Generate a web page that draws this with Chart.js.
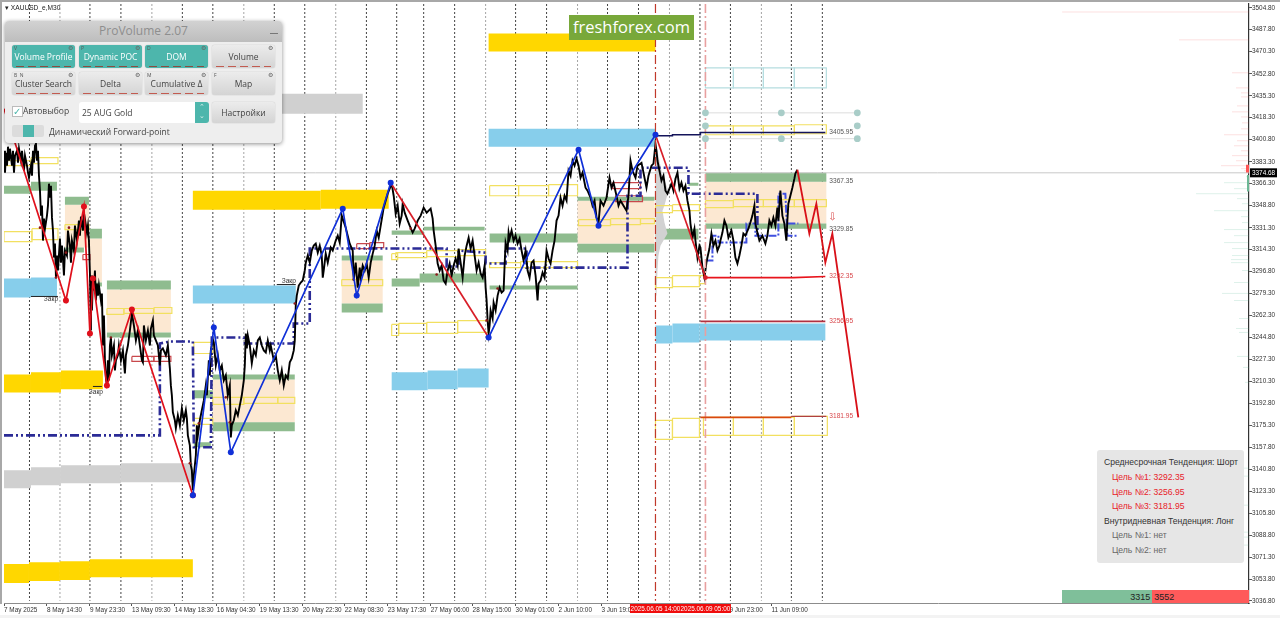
<!DOCTYPE html>
<html>
<head>
<meta charset="utf-8">
<script src="https://cdn.jsdelivr.net/npm/chart.js@4"></script>
<style>
html,body{margin:0;padding:0;width:1280px;height:618px;overflow:hidden;background:#fff;font-family:"Liberation Sans",sans-serif}
#myChart{position:absolute;left:0;top:0}
.abs,.btn,.txt{position:absolute}
.edge{position:absolute;background:#a8a8a8}
#strip{position:absolute;left:0;top:615px;width:1280px;height:3px;background:#f3f3f3}
#panel{position:absolute;left:5px;top:21px;width:277px;height:122px;background:#eeeeee;border-radius:4px;box-shadow:0 1px 4px rgba(0,0,0,.45);font-family:"Open Sans",sans-serif;color:#444;overflow:hidden}
#panelHead{position:absolute;left:0;top:0;width:277px;height:21px;background:linear-gradient(#d2d2d2,#bdbdbd);text-align:center;font-size:12px;line-height:20px;color:#8e8e8e}
#panelHead i{position:absolute;right:4px;top:12px;width:8px;height:1px;background:#777}
.btn{width:63px;height:23px;border-radius:3px;background:linear-gradient(#ececec,#d4d4d4);box-shadow:0 0 1px #999;font-size:8.5px;line-height:24px;text-align:center;color:#444}
.btn.on{background:#4db6ac;color:#fff}
.btn b{position:absolute;left:2px;top:0;font-size:5px;font-weight:400;line-height:6px;color:#555}
.btn u{position:absolute;right:2px;top:0;font-size:6px;line-height:7px;text-decoration:none;color:#666}
.btn s{position:absolute;left:4px;right:4px;bottom:1px;height:1px;background:repeating-linear-gradient(90deg,#c25b50 0 8px,transparent 8px 12px)}
.btn.on s{background:repeating-linear-gradient(90deg,#8a4d40 0 8px,transparent 8px 12px)}
#badge{position:absolute;left:569px;top:15px;width:125px;height:25px;background:#78a83a;color:#fff;font-family:"Open Sans",sans-serif;font-size:16.5px;line-height:24px;text-align:center}
#info{position:absolute;left:1097px;top:450px;width:147px;height:113px;background:#e6e6e6;border-radius:3px;font-size:8.6px;color:#333}
#info div{position:absolute;white-space:nowrap;line-height:12px}
#vol{position:absolute;left:1062px;top:590px;width:187px;height:13px;display:flex;font-size:9px;line-height:14px;color:#222}
#vol div{height:13px;box-sizing:border-box}
</style>
</head>
<body>
<canvas id="myChart" width="1280" height="618"></canvas>
<div class="edge" style="left:0;top:0;width:1280px;height:2px"></div>
<div class="edge" style="left:0;top:0;width:2px;height:604px"></div>
<div id="strip"></div>
<div class="txt" style="left:5px;top:4px;font-size:6.6px;color:#222">&#9662; XAUUSD_&#1077;,M30</div>

<div id="panel">
  <div id="panelHead">ProVolume 2.07<i></i></div>
  <div class="btn on" style="left:7px;top:24px"><b>V</b><u>&#9881;</u>Volume Profile<s></s></div>
  <div class="btn on" style="left:74px;top:24px"><b>P</b><u>&#9881;</u>Dynamic POC<s></s></div>
  <div class="btn on" style="left:140px;top:24px"><b>D</b><u>&#9881;</u>DOM<s></s></div>
  <div class="btn" style="left:207px;top:24px"><u>&#9881;</u>Volume<s></s></div>
  <div class="btn" style="left:7px;top:51px"><b>B &nbsp;N</b><u>&#9881;</u>Cluster Search<s></s></div>
  <div class="btn" style="left:74px;top:51px"><u>&#9881;</u>Delta<s></s></div>
  <div class="btn" style="left:140px;top:51px"><b>M</b><u>&#9881;</u>Cumulative &#916;<s></s></div>
  <div class="btn" style="left:207px;top:51px"><b>F</b><u>&#9881;</u>Map</div>
  <div class="abs" style="left:7px;top:85px;width:9px;height:9px;background:#fff;border:1px solid #bbb;font-size:10px;line-height:9px;color:#4db6ac">&#10003;</div>
  <div class="txt" style="left:18px;top:84px;font-size:8.5px">Автовыбор</div>
  <div class="abs" style="left:74px;top:81px;width:116px;height:21px;background:#fff;font-size:8.5px;line-height:22px;text-indent:3px;border-radius:3px 0 0 3px">25 AUG Gold</div>
  <div class="abs" style="left:190px;top:81px;width:14px;height:21px;background:#4db6ac;border-radius:0 3px 3px 0;color:#d8f0ec;font-size:7px;line-height:9px;text-align:center">&#8963;<br>&#8964;</div>
  <div class="btn" style="left:207px;top:81px;height:21px;line-height:21px">Настройки</div>
  <div class="abs" style="left:7px;top:104px;width:32px;height:12px;background:#dcdcdc;border-radius:2px"></div>
  <div class="abs" style="left:18px;top:104px;width:11px;height:12px;background:#4db6ac"></div>
  <div class="txt" style="left:44px;top:105px;font-size:8.5px">Динамический Forward-point</div>
</div>

<div id="badge">freshforex.com</div>

<div id="info">
  <div style="left:7px;top:6px">Среднесрочная Тенденция: Шорт</div>
  <div style="left:15px;top:21px;color:#e8222a">Цель №1: 3292.35</div>
  <div style="left:15px;top:36px;color:#e8222a">Цель №2: 3256.95</div>
  <div style="left:15px;top:50px;color:#e8222a">Цель №3: 3181.95</div>
  <div style="left:7px;top:65px">Внутридневная Тенденция: Лонг</div>
  <div style="left:15px;top:79px;color:#666">Цель №1: нет</div>
  <div style="left:15px;top:94px;color:#666">Цель №2: нет</div>
</div>

<div id="vol"></div>

<script>
// axis labels
const priceTicks = [3504.80,3487.80,3470.30,3452.80,3435.30,3418.30,3400.80,3383.30,3366.30,3348.80,3331.30,3314.30,3296.80,3279.30,3262.30,3244.80,3227.30,3210.30,3192.80,3175.30,3157.80,3140.80,3123.30,3105.80,3088.80,3071.30,3053.80,3036.80];
const timeSlots = [0,43,86,128,171,213,256,299,341,384,427,469,512,555,598,640,683,726,768];
const timeLabels = ['7 May 2025','8 May 14:30','9 May 23:30','13 May 09:30','14 May 18:30','16 May 04:30','19 May 13:30','20 May 22:30','22 May 08:30','23 May 17:30','27 May 06:00','28 May 15:00','30 May 01:00','2 Jun 10:00','3 Jun 19:00','5 Jun 04:00','6 Jun 13:00','9 Jun 23:00','11 Jun 09:00'];
const lastPrice = 3374.68;
const buyVolume = 3315;
const sellVolume = 3552;

// day separators
const daySlots = [25.5,86,117,178.5,209,270.5,301,362.7,393,420,451,512,543,604,635,696.5,727,788,819];
const weekSlots = [56,148,240,332,482,574,666,758];
const eventSlots = [652,702];
const eventLabels = ['2025.06.05 14:00','2025.06.09 05:00'];

// price path
const priceSlots = [
0,1,2,3,4,5,6,8,9,10,11,13,14,15,17,18,20,21,23,24,
25,27,28,29,30,31,32,33,34,35,36,37,38,39,40,41,43,44,45,46,
47,48,49,50,51,52,53,54,56,57,58,59,60,61,63,64,66,67,68,70,
71,73,75,76,77,79,80,82,83,84,85,86,86.5,87,87.5,88,89,90,91,92,
93,94,95,97,98,99,100,101,102,103,104,105,106,107,108,110,111,112,114,115,
117,119,121,122,124,126,128,130,132,134,136,138,139,140,142,144,146,147,149,150,
152,154,156,157,159,162,164,166,167,168,169,171,172,174,176,178,180,182,183,184,
186,187,188,189,190,192,193,194,196,198,200,202,203,205,206,207,209,210,212,214,
216,218,220,222,224,226,227,228,230,232,234,236,238,240,241,242,243,244,246,248,
250,252,254,256,258,260,262,264,266,267,270,272,274,276,278,280,282,284,286,288,
290,291,292,293,295,297,299,301,302,304,306,308,310,312,314,316,318,319,320,322,
324,327,329,332,334,336,338,340,342,344,346,349,350,352,354,356,357,359,361,363,
365,367,369,371,373,375,377,380,382,384,386,388,390,392,394,396,398,399,401,404,
406,409,411,414,417,420,423,427,429,430,432,434,436,438,440,442,444,446,448,450,
452,454,455,457,459,461,463,465,467,469,471,473,475,477,479,481,482,483,484,485,
486,487,489,490,492,494,496,498,500,501,502,504,505,506,508,510,512,514,516,518,
520,522,524,526,528,530,532,534,535,537,539,541,543,545,547,549,551,553,555,557,
559,561,563,565,567,569,571,573,575,577,579,582,584,587,589,591,593,595,597,600,
603,606,608,610,613,615,617,623,625,627,629,632,634,638,640,643,645,648,650,652,
653,654,656,658,660,662,664,666,668,670,672,674,676,678,680,682,684,686,687,689,
691,692,694,696,697,699,700,701,703,704,706,708,710,712,714,716,717,719,721,723,
725,728,730,732,734,736,738,740,742,745,747,749,751,752,754,756,759,762,764,766,
768,770,772,774,775,777,779,781,783,784,785,787,789,791,792,794];
const priceValues = [
3392.1,3374.8,3390.5,3380.3,3395.3,3384.2,3393.7,3380.3,3392.1,3374.8,3388.2,3392.1,3382.6,3393.7,3384.2,3392.1,3376.3,3388.2,3380.3,3374.8,
3370.8,3380.3,3372.4,3392.1,3382.6,3396,3397.6,3384.2,3392.1,3372.4,3360.6,3340.9,3348.8,3321.2,3338.5,3330.6,3340.9,3348.8,3366.1,3355,
3364.5,3339.3,3329.1,3307.8,3318.8,3292,3309.4,3297.6,3322.8,3303.8,3317.2,3307,3293.6,3313.3,3309.4,3329.1,3317.2,3303.8,3321.2,3313.3,
3333,3321.2,3337,3325.1,3340.1,3329.1,3343.2,3333,3327.5,3333,3321.2,3295.2,3273.9,3250.3,3293.6,3266,3289.7,3281.8,3297.6,3273.9,
3287.3,3277.8,3285.7,3273.9,3279.4,3238.4,3262.1,3226.7,3212.4,3206.9,3226.7,3210.9,3238.4,3244.7,3230.6,3238.4,3218.8,3226.7,3230.6,3238.4,
3226.7,3234.5,3216.4,3230.6,3238.4,3250.3,3263.7,3254.2,3242.4,3250.3,3238.4,3226.7,3225.1,3254.2,3242.4,3250.3,3238.4,3251.8,3258.2,3246.3,
3242.4,3238.4,3222.7,3234.5,3236.1,3230.6,3238.4,3220.3,3206.9,3199.1,3185.7,3179.4,3173.1,3183.3,3175.4,3188.8,3179.4,3187.3,3181,3167.5,
3159.6,3144,3140,3124.2,3136,3151.8,3175.4,3167.5,3179.4,3187.3,3195.1,3206.9,3199.1,3226.7,3214.8,3234.5,3243.2,3240.8,3222.7,3230.6,
3218.8,3222.7,3210.9,3214.8,3199.1,3206.9,3165.9,3175.4,3179.4,3187.3,3183.3,3191.2,3199.1,3210.9,3222.7,3247.9,3236.1,3246.3,3238.4,3224.3,
3234.5,3230.6,3242.4,3244.7,3238.4,3234.5,3232.9,3242.4,3234.5,3238.4,3226.7,3230.6,3218.8,3210.9,3218.8,3206.9,3214.8,3212.4,3225.1,3228.2,
3234.5,3242.4,3270,3277.8,3285.7,3288.1,3289.7,3297.6,3303.8,3309.4,3303.8,3313.3,3317.2,3318.8,3311.7,3317.2,3309.4,3292,3297.6,3310.9,
3303.8,3315.7,3313.3,3321.2,3325.1,3319.6,3340.9,3336.2,3331.4,3325.1,3318.8,3313.3,3289.7,3303.8,3284.1,3299.9,3292,3301.5,3297.6,3303.1,
3292,3303.8,3310.9,3317.2,3329.1,3323.5,3333,3347.2,3352.7,3358.2,3362.2,3366.1,3356.6,3342.4,3348.8,3334.6,3340.9,3350.3,3343.2,3337,
3333,3327.5,3330.6,3337,3340.9,3347.2,3343.2,3346.4,3338.5,3329.1,3317.2,3303.1,3297.6,3301.5,3289.7,3287.3,3297.6,3303.1,3293.6,3301.5,
3307,3301.5,3314.9,3303.8,3292,3309.4,3317.2,3323.5,3314.9,3321.2,3309.4,3297.6,3303.8,3295.2,3292,3301.5,3284.1,3273.9,3258.2,3247.9,
3254.2,3266,3259.7,3272.3,3266,3277.8,3284.1,3280.2,3281.8,3301.5,3319.6,3313.3,3327.5,3322.8,3329.1,3321.2,3325.1,3318.8,3322.8,3313.3,
3305.4,3313.3,3297.6,3292,3303.8,3305.4,3293.6,3273.9,3287.3,3289.7,3296,3292,3313.3,3307,3303.1,3313.3,3321.2,3337,3340.9,3355,
3348.8,3356.6,3352.7,3376.3,3372.4,3384.2,3380.3,3385.8,3380.3,3370.8,3374.8,3362.9,3360.6,3355,3348.8,3352.7,3339.3,3335.4,3352.7,3348.8,
3355,3370.8,3362.9,3366.9,3356.6,3348.8,3352.7,3344.8,3356.6,3384.2,3376.3,3370.8,3380.3,3382.6,3374.8,3362.9,3372.4,3380.3,3381.9,3397.6,
3392.1,3384.2,3376.3,3368.5,3372.4,3360.6,3358.2,3362.2,3366.1,3360.6,3370,3374.8,3362.2,3366.9,3360.6,3364.5,3352.7,3344.8,3334.6,3323.5,
3330.6,3321.2,3307.8,3317.2,3315.7,3299.9,3296,3292,3303.8,3307.8,3314.9,3326.7,3317.2,3321.2,3313.3,3317.2,3321.2,3327.5,3337,3333,
3323.5,3329.1,3321.2,3307.8,3303.1,3309.4,3317.2,3326.7,3325.1,3330.6,3335.4,3340.9,3348.8,3334.6,3327.5,3321.2,3325.1,3318.8,3325.1,3337,
3333,3339.3,3333,3347.2,3337,3360.6,3340.9,3334.6,3321.2,3337,3350.3,3356.6,3362.9,3370,3374,3377.1];

// swings of the wave count
const redLegSlots = [0,62,80,86,89,103,128,189];
const redLegValues = [3425.2,3273.9,3348,3247.9,3291.2,3206.9,3266.8,3120.2];
const blueLegSlots = [189,210,227,339,353,387];
const blueLegValues = [3120.2,3252.6,3154.1,3346.4,3277.8,3366.9];
const redLeg2Slots = [387,485];
const redLeg2Values = [3366.9,3244.7];
const blueLeg2Slots = [485,575,595,652];
const blueLeg2Values = [3244.7,3392.9,3333,3404.7];
const redLeg3Slots = [652,702];
const redLeg3Values = [3404.7,3292];
const forecastSlots = [794,806,813,822,829,855];
const forecastValues = [3377.1,3326.7,3350.3,3303.8,3326.7,3181.7];
const pivotSlots = [36,65,62,52,107,186,195,222,226,291,350,407,433,483,494];
const pivotValues = [3331.4,3331.4,3311.7,3292,3244.7,3145.5,3177,3197.5,3177.8,3271.5,3290.4,3330.6,3294.4,3258.2,3283.4];

// dynamic POC steps
const pocSlots = [0,156,156,167,189,190,207,208,240,241,290,290,306,306,443,443,455,455,482,482,502,502,523,523,624,624,637,637,685,685,754,754];
const pocValues = [3167.5,3167.5,3240,3241.6,3241.6,3158.1,3158.1,3244.7,3244.7,3240,3240,3255.8,3255.8,3314.9,3314.9,3300.7,3300.7,3313.3,3311.7,3303.1,3303.1,3314.9,3314.9,3299.9,3299.9,3356.6,3356.6,3378.7,3378.7,3358.2,3358.2,3325.1];
const poc2Slots = [702,709,709,715,715,743,743,752,752,775,775,782,784,795,null,784,795];
const poc2Values = [3305.4,3305.4,3325.1,3325.1,3319.6,3319.6,3334.6,3334.6,3325.1,3325.1,3358.2,3358.2,3325.1,3325.1,null,3334.6,3334.6];

// target levels
const targetSlots = [652,669,669,697,697,822];
const targetValues = [3403.9,3403.9,3404.7,3404.7,3406.5,3406.5];
const level1Slots = [702,790,822];
const level1Values = [3292,3292,3292.8];
const level2Slots = [697,822];
const level2Values = [3257.4,3257.4];
const level3Slots = [697,788];
const level3Values = [3181.7,3181.7];
const level3bSlots = [788,823];
const level3bValues = [3182.5,3182.5];
const closeMarkSlots = [[27,54],[89,98],[273,292]];
const closeMarkValues = [3277.1,3206.1,3286.5];

const levelLabels = ['3405.95','3367.35','3329.85','3292.35','3256.95','3181.95'];
const levelLabelValues = [3407.1,3367.7,3330.6,3292.8,3257.4,3182.5];
const levelLabelSlot = 826;
const closeLabels = ['Закр','Закр','Закр'];
const closeLabelSlots = [47,92,285];
const closeLabelValues = [3274.7,3201.4,3288.9];

// zones [from, to, upper price, lower price]
const goldZones = [[485,652,3484.7,3470.5],[189,317,3360.6,3345.6],[317,385,3361.4,3346.4],[0,27,3215.6,3201.4],[27,57,3217.2,3201.4],[57,99,3218.7,3203.8],[0,25,3065.9,3050.9],[25,56,3067.4,3052.5],[56,86,3068.2,3053.3],[86,189,3069.8,3055.6]];
const skyZones = [[485,652,3409.4,3395.3],[189,292,3285.7,3271.5],[0,27,3291.2,3276.3],[27,53,3292,3277.1],[388,424,3217.2,3203],[424,454,3218.7,3203.8],[454,485,3220.3,3205.3],[652,669,3254.2,3240],[669,696,3255.8,3240.8],[696,822,3255.8,3242.4]];
const greyZones = [[189,359,3437,3421.3],[0,27,3140,3125.8],[27,57,3142.3,3128.1],[57,117,3143.9,3129.7],[117,189,3145.5,3130.5]];
const greenZones = [[0,27,3364.5,3358.2],[27,53,3367.7,3360.6],[61,85,3355.8,3349.5],[86,98,3330.6,3322.8],[61,80,3315.7,3311.7],[87,98,3288.1,3284.9],[103,167,3289.7,3282.6],[103,167,3248.7,3244.7],[209,291,3215.6,3211.6],[209,291,3177.8,3170.7],[190,209,3203,3196.7],[190,207,3162,3158.1],[338,379,3309.4,3305.4],[338,379,3271.5,3264.4],[388,420,3329.1,3325.9],[420,481,3332.2,3329.1],[388,416,3291.2,3284.9],[416,481,3295.2,3288.1],[486,574,3326.7,3319.6],[486,574,3285.7,3282.6],[574,651,3355.8,3352.7],[574,651,3318.8,3311.7],[652,695,3330.6,3322],[685,695,3366.9,3364.5],[702,823,3374.8,3367.7],[702,823,3334.6,3330.6]];
const valueZones = [[61,85,3349.5,3315.7],[86,98,3322.8,3288.1],[103,167,3282.6,3248.7],[209,291,3211.6,3177.8],[338,379,3305.4,3271.5],[574,651,3352.7,3318.8],[702,823,3367.7,3334.6]];
const yellowBoxes = [[0,27,3384.2,3380.3],[27,54,3386.6,3381.9],[0,28,3328.3,3320.4],[28,54,3330.6,3322],[61,85,3333.8,3329.9],[103,120,3267.6,3262.9],[120,150,3267.6,3263.7],[150,168,3268.4,3263.7],[190,209,3240.8,3232.1],[190,209,3180.9,3176.2],[209,240,3197.5,3191.9],[240,274,3197.5,3192.7],[274,291,3197.5,3192.7],[338,379,3290.4,3285.7],[388,394,3310.9,3306.2],[392,423,3311.7,3307.8],[423,454,3313.3,3308.6],[454,482,3314.1,3309.4],[388,395,3255,3246.3],[395,423,3255.8,3247.9],[423,454,3256.6,3247.9],[454,485,3258.1,3248.7],[486,515,3364.5,3356.6],[515,545,3364.5,3356.6],[545,574,3365.3,3356.6],[486,517,3303.8,3299.9],[517,574,3304.6,3299.9],[575,607,3337.7,3333],[607,637,3338.5,3333.8],[637,651,3338.5,3334.6],[652,669,3292,3284.1],[669,696,3293.6,3284.9],[696,702,3293.6,3287.3],[652,669,3348.8,3343.2],[669,696,3349.5,3344.8],[702,730,3352.7,3347.2],[730,760,3353.5,3348],[760,791,3353.5,3348],[791,823,3353.5,3348],[702,730,3411.8,3404.7],[730,760,3411.8,3404.7],[760,791,3411.8,3404.7],[791,823,3412.6,3405.5],[652,669,3179.3,3164.4],[669,696,3180.9,3165.9],[700,730,3181.7,3167.5],[730,760,3181.7,3167.5],[760,791,3181.7,3167.5],[791,824,3182.5,3167.5]];
const tealBoxes = [[702,730,3457.5,3441.7],[730,760,3457.5,3441.7],[760,791,3457.5,3441.7],[791,823,3457.5,3441.7]];
const redBoxes = [[79,86,3310.2,3306.2],[128,150,3229.8,3225.8],[150,167,3229.8,3225.8],[353,366,3318.8,3314.9],[366,380,3319.6,3315.7],[609,637,3366.9,3362.2],[612,639,3356.6,3351.9]];

// selected object handles
const handleSlots = [702,778,854,702,854,702,778,854];
const handleValues = [3422,3422,3422,3411.8,3411.8,3401.6,3401.6,3401.6];

// session volume profile beside the forward zone
const sessionSlots = [652,654,657,659,662,665,661,659,661,664,657,655,654,653,652];
const sessionValues = [3397.6,3392.1,3380.3,3372.4,3366.9,3360.6,3348.8,3344.8,3335.4,3326.7,3317.2,3309.4,3297.6,3277.8,3277.8];

// price profile on the right edge, length in slots
const askPrices = [3501.6,3479.6,3453.6,3441.7,3437.8,3434.6,3427.5,3422.8,3418.8,3414.1,3409.4,3404.7,3400,3396,3392.1,3388.2,3384.2,3380.3,3378,3376.3];
const askLengths = [187,70,17,13,8,8,12,17,8,7,8,25,12,15,8,17,13,28,8,5];
const bidPrices = [3371.6,3366.9,3362.2,3358.2,3354.3,3350.3,3344.8,3340.1,3335.4,3329.9,3325.1,3319.6,3314.9,3309.4,3306.2,3303.8,3297.6,3288.1,3279.5,3273.9,3259.7,3251.8,3248.7,3229.8,3221.1,3209.3,3141.6,3135.3,3112.4,3091.1,3087.2,3080.9];
const bidLengths = [3,25,15,53,12,7,35,8,7,25,15,25,17,17,18,18,7,15,27,15,10,13,10,12,6,4,7,8,12,8,7,8];

const endSlot = 1246;
const priceMin = 3035.2, priceMax = 3507.9;

function pts(xs, ys) { return xs.map((x, i) => ({x: x, y: ys[i]})); }
function boxPts(b) { return [{x:b[0],y:b[2]},{x:b[1],y:b[2]},{x:b[1],y:b[3]},{x:b[0],y:b[3]},{x:b[0],y:b[2]}]; }
function zone(b, color) { return {data: boxPts(b), showLine: true, fill: 'shape', backgroundColor: color, borderColor: 'rgba(0,0,0,0)', borderWidth: 0, pointRadius: 0}; }
function box(b, color, w) { return {data: boxPts(b), showLine: true, borderColor: color, borderWidth: w || 1.2, pointRadius: 0, fill: false}; }
function line(data, color, w, dash) { return {data: data, showLine: true, borderColor: color, borderWidth: w, borderDash: dash || [], pointRadius: 0, fill: false}; }
function dots(data, color, r) { return {data: data, showLine: false, backgroundColor: color, borderColor: color, pointRadius: r, pointBorderWidth: 0}; }
function legs(xs, ys, color, r) { return {data: pts(xs, ys), showLine: true, borderColor: color, borderWidth: 1.7, backgroundColor: color, pointRadius: r, pointBorderWidth: 0, fill: false}; }
function vline(slot, color, w, dash) { return line([{x:slot,y:priceMax},{x:slot,y:3037}], color, w, dash); }
function hairs(prices, lengths) {
    const out = [];
    prices.forEach((p, i) => { out.push({x: endSlot - lengths[i], y: p}, {x: endSlot, y: p}, {x: endSlot, y: null}); });
    return out;
}

// listed bottom to top, reversed below because Chart.js paints the first dataset last
let layers = [];
daySlots.forEach(s => layers.push(vline(s, '#444', 1, [2, 2])));
weekSlots.forEach(s => layers.push(vline(s, '#a4a4a4', 1, [2, 2])));
valueZones.forEach(b => layers.push(zone(b, '#fce8d2')));
greenZones.forEach(b => layers.push(zone(b, '#8fbc8f')));
goldZones.forEach(b => layers.push(zone(b, '#ffd700')));
skyZones.forEach(b => layers.push(zone(b, '#87ceeb')));
greyZones.forEach(b => layers.push(zone(b, '#d0d0d0')));
layers.push({data: pts(sessionSlots, sessionValues), showLine: true, fill: 'shape', backgroundColor: '#d2d2d2', borderColor: 'rgba(0,0,0,0)', borderWidth: 0, pointRadius: 0});
layers.push(line([{x:0,y:lastPrice},{x:endSlot,y:lastPrice}], '#c8c8c8', 1));
layers.push(line(hairs(askPrices, askLengths), 'rgba(240,70,70,.17)', 1));
layers.push(line(hairs(bidPrices, bidLengths), 'rgba(60,170,130,.17)', 1));
layers.push(line([{x:1244.5,y:3381},{x:1244.5,y:3375}], '#f55', 3));
layers.push(line([{x:1245,y:3373},{x:1245,y:3360}], '#6cb895', 2));
yellowBoxes.forEach(b => layers.push(box(b, '#f2e060')));
tealBoxes.forEach(b => layers.push(box(b, '#b5dde0')));
redBoxes.forEach(b => layers.push(box(b, '#c8484c')));
layers.push(line([{x:702,y:3422},{x:854,y:3422}], '#dcdcdc', 1));
layers.push(line([{x:702,y:3401.6},{x:854,y:3401.6}], '#dcdcdc', 1));
layers.push(line(pts(pocSlots, pocValues), '#2b2b96', 2.6, [9, 3, 2, 3, 2, 3]));
layers.push(line(pts(poc2Slots, poc2Values), '#3f4fe0', 2, [8, 2, 2, 2]));
layers.push(line(pts(priceSlots, priceValues), '#000', 1.9));
layers.push(dots(pts(pivotSlots, pivotValues), '#8b1a1a', 1.3));
layers.push(vline(eventSlots[0], '#c0392b', 1.2, [9, 3, 2, 3]));
layers.push(vline(eventSlots[1], '#e8a0a0', 1.6, [9, 3, 2, 3]));
layers.push(line(pts(targetSlots, targetValues), '#14145a', 1.5));
layers.push(line(pts(level1Slots, level1Values), '#e8141c', 1.6));
layers.push(line(pts(level2Slots, level2Values), '#b03040', 1.8));
layers.push(line(pts(level3Slots, level3Values), '#d9480f', 1.6));
layers.push(line(pts(level3bSlots, level3bValues), '#b04040', 1.4));
closeMarkSlots.forEach((s, i) => layers.push(line([{x:s[0],y:closeMarkValues[i]},{x:s[1],y:closeMarkValues[i]}], '#222', 1)));
layers.push(Object.assign(legs(redLegSlots, redLegValues, '#e0101c', 3), {pointRadius: c => c.dataIndex ? 3 : 0}));
layers.push(legs(redLeg2Slots, redLeg2Values, '#d81e28', 2.4));
layers.push(legs(redLeg3Slots, redLeg3Values, '#d81e28', 2.4));
layers.push(legs(blueLegSlots, blueLegValues, '#1030d8', 3));
layers.push(legs(blueLeg2Slots, blueLeg2Values, '#1030d8', 3));
layers.push(Object.assign(legs(forecastSlots, forecastValues, '#d81018', 0), {borderWidth: 1.8}));
layers.push(dots(pts(handleSlots, handleValues), '#a9cdc8', 3.4));

const overlayText = {
    id: 'overlayText',
    afterDraw(chart) {
        const ctx = chart.ctx, xs = chart.scales.x, ys = chart.scales.y;
        ctx.save();
        ctx.textBaseline = 'middle';
        ctx.textAlign = 'left';
        ctx.font = '6.6px "Liberation Sans"';
        levelLabels.forEach((t, i) => {
            ctx.fillStyle = i < 3 ? '#555' : '#d8484c';
            ctx.fillText(t, xs.getPixelForValue(levelLabelSlot), ys.getPixelForValue(levelLabelValues[i]));
        });
        ctx.fillStyle = '#333';
        ctx.textAlign = 'center';
        closeLabels.forEach((t, i) => ctx.fillText(t, xs.getPixelForValue(closeLabelSlots[i]), ys.getPixelForValue(closeLabelValues[i])));
        ctx.fillStyle = '#d94a4a';
        ctx.font = '10px "DejaVu Sans"';
        ctx.fillText('\u21E9', xs.getPixelForValue(829), ys.getPixelForValue(3339.3));
        // last price tag
        const ly = ys.getPixelForValue(lastPrice);
        ctx.fillStyle = '#000';
        ctx.fillRect(1250, ly - 4.5, 27, 9);
        ctx.fillStyle = '#fff';
        ctx.font = '6.4px "Liberation Sans"';
        ctx.textAlign = 'left';
        ctx.fillText(lastPrice.toFixed(2), 1252, ly + 0.5);
        // event time tags
        ctx.textAlign = 'center';
        eventSlots.forEach((s, i) => {
            const ex = xs.getPixelForValue(s);
            ctx.fillStyle = '#f00c0c';
            ctx.fillRect(ex - 25.5, 604, 51, 9);
            ctx.fillStyle = '#fff';
            ctx.fillText(eventLabels[i], ex, 609);
        });
        ctx.restore();
    }
};

new Chart(document.getElementById('myChart'), {
    type: 'scatter',
    data: {datasets: layers.reverse()},
    options: {
        responsive: false,
        animation: false,
        events: [],
        spanGaps: false,
        layout: {padding: {left: 3, top: 3, right: 0, bottom: 0}},
        plugins: {legend: {display: false}, tooltip: {enabled: false}},
        scales: {
            x: {
                type: 'linear', min: 0, max: endSlot,
                afterFit: s => { s.height = 15; },
                afterBuildTicks: s => { s.ticks = timeSlots.map(v => ({value: v})); },
                grid: {drawOnChartArea: false, tickLength: 3, color: '#555'},
                border: {color: '#8c8c8c', width: 1},
                ticks: {autoSkip: false, maxRotation: 0, align: 'start', padding: 0, color: '#333',
                    font: {family: '"Liberation Sans"', size: 6.4},
                    callback: (v, i) => timeLabels[i]}
            },
            y: {
                type: 'linear', position: 'right', min: priceMin, max: priceMax,
                afterFit: s => { s.width = 31; },
                afterBuildTicks: s => { s.ticks = priceTicks.map(v => ({value: v})); },
                grid: {drawOnChartArea: false, tickLength: 3, color: '#555'},
                border: {color: '#333', width: 1.2},
                ticks: {autoSkip: false, padding: 0, color: '#333',
                    font: {family: '"Liberation Sans"', size: 6.4},
                    callback: v => v.toFixed(2)}
            }
        }
    },
    plugins: [overlayText]
});

// buy / sell balance bar
document.getElementById('vol').innerHTML =
    '<div style="flex:' + buyVolume + ';background:#7fbf9a;text-align:right;padding-right:2px">' + buyVolume + '</div>' +
    '<div style="flex:' + sellVolume + ';background:#ff5a5a;padding-left:2px">' + sellVolume + '</div>';
</script>
</body>
</html>
